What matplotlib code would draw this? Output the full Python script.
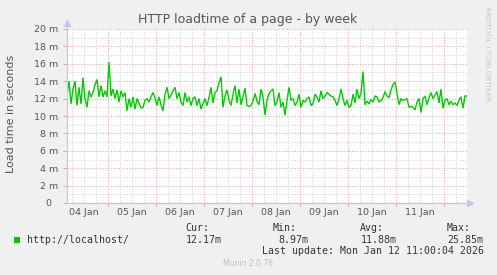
import matplotlib
matplotlib.use('Agg')
import matplotlib.pyplot as plt
import numpy as np
from matplotlib.patches import Rectangle

# ---- data (hourly load time in ms) ----
load_ms = [
    12.4, 14.0, 11.4, 13.1, 14.0, 11.2, 13.3, 11.4, 14.4, 12.0,
    11.0, 12.9, 12.2, 12.7, 13.6, 14.2, 12.2, 13.5, 12.2, 12.9,
    12.2, 16.2, 12.3, 13.1, 12.0, 13.0, 11.6, 12.9, 12.2, 12.7,
    10.6, 12.0, 11.0, 12.2, 10.8, 12.0, 11.5, 10.9, 11.0, 11.8,
    12.0, 11.6, 12.2, 12.7, 12.1, 11.2, 12.2, 11.3, 10.6, 12.5,
    13.3, 12.0, 12.4, 12.9, 13.3, 12.0, 12.7, 11.6, 11.2, 12.7,
    11.6, 12.2, 11.2, 12.0, 12.2, 11.2, 12.0, 10.8, 11.4, 12.0,
    11.2, 12.1, 13.3, 11.5, 12.7, 12.9, 13.8, 14.5, 11.0, 12.3,
    13.0, 11.8, 11.2, 12.5, 13.5, 11.5, 13.1, 11.3, 12.2, 13.2,
    11.2, 11.1, 11.2, 11.7, 12.6, 11.7, 11.3, 13.1, 12.2, 10.1,
    11.8, 12.6, 12.9, 13.1, 11.2, 11.6, 12.7, 11.0, 11.6, 10.1,
    11.8, 13.3, 11.8, 12.0, 11.2, 11.6, 12.5, 11.0, 11.8, 11.6,
    12.0, 12.2, 11.2, 11.4, 12.5, 12.2, 11.6, 12.9, 12.0, 12.3,
    12.7, 12.5, 12.3, 12.2, 11.8, 11.2, 12.0, 13.1, 12.0, 11.2,
    11.8, 11.0, 11.2, 12.5, 11.5, 13.1, 12.0, 12.6, 15.1, 11.3,
    11.7, 11.4, 11.9, 11.6, 12.3, 12.2, 11.6, 11.8, 12.1, 12.8,
    12.3, 12.1, 13.0, 13.6, 13.9, 12.6, 11.3, 12.0, 11.8, 11.9,
    12.0, 11.0, 11.1, 11.0, 10.7, 11.6, 12.0, 10.4, 12.0, 12.3,
    11.3, 12.1, 12.7, 12.0, 12.4, 12.8, 11.5, 13.1, 10.9, 11.8,
    12.0, 11.3, 11.7, 11.3, 11.5, 11.2, 11.8, 12.2, 10.9, 12.3,
    12.3,
]
start_hour = 3.5          # hours after 04 Jan 00:00
step_hours = 1.0
day_labels = ['04 Jan', '05 Jan', '06 Jan', '07 Jan', '08 Jan', '09 Jan', '10 Jan', '11 Jan']
y_ticks = [0, 2, 4, 6, 8, 10, 12, 14, 16, 18, 20]
y_tick_labels = ['0  ', '2 m', '4 m', '6 m', '8 m', '10 m', '12 m', '14 m', '16 m', '18 m', '20 m']
series_name = 'http://localhost/'
stat_names = ['Cur:', 'Min:', 'Avg:', 'Max:']
stat_values = ['12.17m', '8.97m', '11.88m', '25.85m']
last_update = 'Last update: Mon Jan 12 11:00:04 2026'

W, H = 497, 275
BG = '#f0f0f0'
fig = plt.figure(figsize=(W / 100, H / 100), dpi=100, facecolor=BG)
L, R, T, B = 67, 467, 29, 203
ax = fig.add_axes([L / W, 1 - B / H, (R - L) / W, (B - T) / H])
ax.set_facecolor('white')

hours = start_hour + step_hours * np.arange(len(load_ms))
span = 200.0
ax.set_xlim(start_hour, start_hour + span)
ax.set_ylim(0, 20)

MAJ = '#eaa4a4'
MIN = '#d2d2d2'
AX = '#c4c4ee'

# grid
midnights = [24 * k for k in range(1, 9)]
sixes = [h for h in range(6, 204, 6) if h % 24 != 0 and start_hour < h < start_hour + span]
for h in sixes:
    ax.axvline(h, color=MIN, lw=0.75, ls=(0, (1, 1.6)), zorder=1)
for h in midnights:
    ax.axvline(h, color=MAJ, lw=0.75, ls=(0, (1, 1.6)), zorder=1.5)
for v in range(1, 21):
    if v % 2:
        ax.axhline(v, color=MIN, lw=0.75, ls=(0, (1, 1.6)), zorder=1)
for v in y_ticks[1:]:
    ax.axhline(v, color=MAJ, lw=0.75, ls=(0, (1, 1.6)), zorder=1.5)

ax.plot(hours, load_ms, color='#00cc00', lw=1.0, zorder=3, solid_joinstyle='miter')

# axes
for s in ['top', 'right']:
    ax.spines[s].set_visible(False)
ax.spines['left'].set_color(AX)
ax.spines['bottom'].set_color(AX)
ax.spines['left'].set_linewidth(0.9)
ax.spines['bottom'].set_linewidth(0.9)
ax.spines['left'].set_zorder(4)
ax.spines['bottom'].set_zorder(4)

ax.set_yticks(y_ticks)
ax.set_yticklabels(y_tick_labels, fontsize=6.8, color='#555555')
ax.tick_params(axis='y', length=3, color=MAJ, pad=3.5, width=0.7)
ax.set_xticks(midnights)
ax.set_xticklabels([])
ax.tick_params(axis='x', length=2, color=MAJ, width=0.7)

for i, lab in enumerate(day_labels):
    ax.annotate(lab, xy=(24 * i + 12, 0), xycoords=('data', 'axes fraction'),
                xytext=(0, -6.6), textcoords='offset points', ha='center', va='center',
                fontsize=6.8, color='#555555', annotation_clip=False)

# axis arrows
ax.plot([0, 0], [1.0, 1.035], transform=ax.transAxes, color=AX, lw=0.9, clip_on=False, zorder=4)
ax.plot([0], [1.035], transform=ax.transAxes, marker='^', ms=4, color=AX, clip_on=False, zorder=4)
ax.plot([1.0, 1.008], [0, 0], transform=ax.transAxes, color=AX, lw=0.9, clip_on=False, zorder=4)
ax.plot([1.008], [0], transform=ax.transAxes, marker='>', ms=4, color=AX, clip_on=False, zorder=4)

# texts
fig.text(248 / W, 1 - 19 / H, 'HTTP loadtime of a page - by week', ha='center', va='center',
         fontsize=9, color='#555555')
fig.text(11 / W, 1 - 114 / H, 'Load time in seconds', rotation=90, ha='center', va='center',
         fontsize=8, color='#555555')
fig.text(487.5 / W, 1 - 54 / H, 'RRDTOOL / TOBI OETIKER', rotation=-90, ha='center', va='center',
         fontsize=5.4, color='#c8c8c8')

mono = dict(family='DejaVu Sans Mono', fontsize=7.1, color='#333333', va='center', ha='left')
fig.patches.append(Rectangle((14 / W, 1 - 242.5 / H), 6 / W, 6 / H, transform=fig.transFigure,
                             facecolor='#00cc00', edgecolor='none'))
fig.text(26.5 / W, 1 - 240 / H, series_name, **mono)
name_x = [185.3, 272.7, 360.0, 446.7]
val_x = [185.7, 278.3, 360.7, 447.3]
for nx, vx, n, v in zip(name_x, val_x, stat_names, stat_values):
    fig.text(nx / W, 1 - 228.3 / H, n, **mono)
    fig.text(vx / W, 1 - 240 / H, v, **mono)
fig.text(261.7 / W, 1 - 251 / H, last_update, **mono)
fig.text(248 / W, 1 - 264 / H, 'Munin 2.0.76', ha='center', va='center', fontsize=5.5, color='#c0c0c0')

fig.savefig('out.png', dpi=100, facecolor=BG)
